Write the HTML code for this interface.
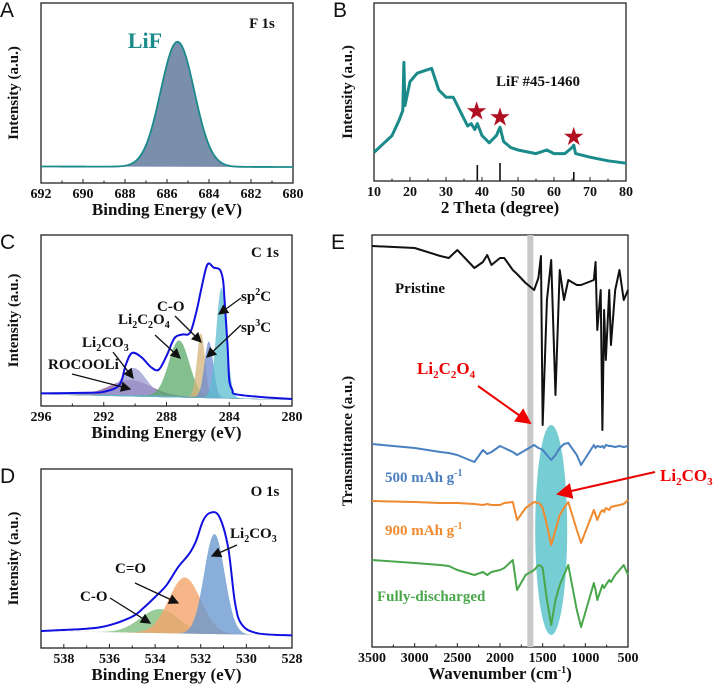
<!DOCTYPE html>
<html><head><meta charset="utf-8"><style>
body{margin:0;background:#fff;}
svg{display:block;font-family:"Liberation Serif",serif;font-weight:bold;}
.pl{font-family:"Liberation Sans",sans-serif;font-weight:normal;font-size:21px;}
</style></head><body>
<svg id="fig" width="725" height="685" viewBox="0 0 725 685">
<defs><marker id="ah" markerWidth="8" markerHeight="8" refX="7" refY="4" orient="auto"><path d="M0,0 L8,4 L0,8 z" fill="#111"/></marker>
<marker id="ahr" markerWidth="8" markerHeight="8" refX="7" refY="4" orient="auto"><path d="M0,0 L8,4 L0,8 z" fill="#e00"/></marker></defs>
</svg>
<script>
// ---- Data ----
const aTicks=[692,690,688,686,684,682,680];
const aPeak=[685.5,125,0.8]; // center, height(px), sigma
const bX=[10,15,17,18,18.3,18.6,20,22,25,26,28,30,32,34,36,37,38,38.7,40,42,44,45,46,48,50,55,58,60,63,65,65.5,66,70,75,80];
const bY=[13,27,40,48,88,52,72,79,82,83,65,59,59,47,35,37,32,37,27,21,27,34,22,17,15,12,15,12,12,17,19,12,9,6,4];
const bTicks=[10,20,30,40,50,60,70,80];
const bStars=[38.5,45,65.5];
const bStarY=[47,42,26];
const bRef=[38.7,45,65.5];
const bRefH=[16,18,9];
const cTicks=[296,292,288,284,280];
const cNames=["ROCOOLi","Li2CO3","Li2C2O4","C-O","sp3C","sp2C"];
const cCenters=[290.3,290.1,287.2,285.8,285.3,284.5];
const cHeights=[15,27,56,64,56,110];
const cSigmas=[1.3,0.8,0.65,0.25,0.28,0.33];
const cColors=["#8a5a9a","#9a9ad0","#5aaa6a","#d6b47a","#6a8ad0","#5abcd0"];
const cEnvX=[296,293,292,291,290.6,290.2,289.6,289,288.5,288,287.5,287,286.5,286.1,285.8,285.5,285.3,285,284.6,284.4,284.3,284.1,284,283.8,283.6,282,280];
const cEnvH=[1,2,3,10,30,42,38,28.5,26,40,58,62,64,85,107,128,134,130,128,118,98,50,18,8,4,2,1];
const dTicks=[538,536,534,532,530,528];
const dNames=["C-O","C=O","Li2CO3"];
const dCenters=[533.8,532.7,531.4];
const dHeights=[24,56,100];
const dSigmas=[0.85,0.7,0.45];
const dColors=["#7fbf7f","#f4a46a","#6a9ad0"];
const dEnvX=[539,537,536,535,534.5,534,533.5,533,532.5,532.2,531.9,531.6,531.2,530.8,530.5,530.2,529.5,528];
const dEnvH=[0,3,7,16,25,36,48,66,80,93,113,121,118,87,32,10,1.5,0];
const eTicks=[3500,3000,2500,2000,1500,1000,500];
const eWN=[3500,3000,2700,2600,2500,2300,2200,2150,2100,2000,1950,1850,1800,1700,1600,1550,1520,1500,1450,1400,1350,1300,1250,1200,1100,1050,900,880,860,820,800,780,760,720,700,650,600,550,500];
const ePristine=[246,248,256,258,250,268,262,255,265,258,258,270,274,283,290,278,256,425,300,260,395,270,300,280,285,285,280,262,330,290,430,310,360,290,345,290,270,300,290];
const e500=[444,448,452,453,455,462,450,454,452,446,448,452,455,450,445,448,449,450,455,460,455,448,444,443,455,465,445,448,446,447,446,448,445,446,446,447,446,447,446];
const e900=[501,502,503,503,503,504,505,504,505,505,503,502,520,508,502,503,505,508,525,545,530,515,508,502,530,543,510,515,520,512,510,512,508,510,507,506,505,504,500];
const eFull=[560,563,565,566,570,575,572,575,572,570,568,560,590,575,570,565,566,568,600,625,600,585,575,565,610,627,583,590,600,590,585,588,585,580,582,575,570,565,575];

const S=document.getElementById('fig');const NS="http://www.w3.org/2000/svg";
function mk(t,a,p){const e=document.createElementNS(NS,t);for(const k in a)e.setAttribute(k,a[k]);(p||S).appendChild(e);return e;}
function txt(s,x,y,size,fill,anchor,extra){const e=mk('text',Object.assign({x:x,y:y,'font-size':size,fill:fill||'#111','text-anchor':anchor||'middle'},extra||{}));e.innerHTML=s;return e;}
function panel(L,R,T,B,x0,x1,ticks,title,ytitle,ytx,letter){
 const sx=v=>L+(v-x0)/(x1-x0)*(R-L);
 mk('rect',{x:L,y:T,width:R-L,height:B-T,fill:'none',stroke:'#222','stroke-width':1.3});
 ticks.forEach((t,i)=>{mk('line',{x1:sx(t),x2:sx(t),y1:B,y2:B-4,stroke:'#222'});
  const l=txt(String(t),sx(t),B+15,14);
  if(i<ticks.length-1){const m=(t+ticks[i+1])/2;mk('line',{x1:sx(m),x2:sx(m),y1:B,y2:B-2.5,stroke:'#222'});}});
 const xt=txt(title,(L+R)/2,B+32,17);
 const cy=(T+B)/2;const yt=txt(ytitle,ytx,cy,15,'#111','middle',{transform:`rotate(-90 ${ytx} ${cy})`});
 
 const pl=txt(letter,L-41,T+14,21,'#111','start',{class:'pl'});
 return sx;}
function gauss(x,c,h,s){return h*Math.exp(-((x-c)**2)/(2*s*s));}
function range(a,b,n){const r=[];for(let i=0;i<=n;i++)r.push(a+(b-a)*i/n);return r;}
function smooth(pts){let d='M'+pts[0][0]+','+pts[0][1];for(let i=0;i<pts.length-1;i++){const p0=pts[i-1]||pts[i],p1=pts[i],p2=pts[i+1],p3=pts[i+2]||p2;
 d+='C'+(p1[0]+(p2[0]-p0[0])/6)+','+(p1[1]+(p2[1]-p0[1])/6)+' '+(p2[0]-(p3[0]-p1[0])/6)+','+(p2[1]-(p3[1]-p1[1])/6)+' '+p2[0]+','+p2[1];}return d;}

// ---- Panel A ----
{const sx=panel(41,293,3,183,692,680,aTicks,"Binding Energy (eV)","Intensity (a.u.)",18,"A");
 const base=x=>167-(x-680)/12*0.5;const xs=range(692,680,200);
 let d=xs.map((x,i)=>(i?'L':'M')+sx(x)+','+(base(x)-gauss(x,aPeak[0],aPeak[1],aPeak[2]))).join('');
 const f=mk('path',{d:d+'L'+sx(680)+','+base(680)+'L'+sx(692)+','+base(692)+'Z',fill:'#7a8fac',stroke:'none'});
 
 const l=mk('path',{d:d,fill:'none',stroke:'#1a8a8a','stroke-width':1.8});
 const t1=txt("LiF",145,48,22,'#1a8a8a');
 const t2=txt("F 1s",262,28,15);}

// ---- Panel B ----
{const sx=panel(374,626,3,181,10,80,bTicks,"2 Theta (degree)","Intensity (a.u.)",352,"B");
 const sy=v=>168-v*1.2;
 const d=bX.map((x,i)=>(i?'L':'M')+sx(x)+','+sy(bY[i])).join('');
 const l=mk('path',{d:d,fill:'none',stroke:'#1a8a8a','stroke-width':3,'stroke-linejoin':'round'});
 bRef.forEach((x,i)=>{const r=mk('line',{x1:sx(x),x2:sx(x),y1:181,y2:181-bRefH[i],stroke:'#111','stroke-width':1.6});});
 bStars.forEach((x,i)=>{const s=txt("★",sx(x),sy(bStarY[i])+7,22,'#b01020');});
 const t=txt("LiF #45-1460",538,86,15);}

// ---- Panel C ----
{const sx=panel(41,292,235,406,296,280,cTicks,"Binding Energy (eV)","Intensity (a.u.)",18,"C");
 const base=x=>395+(290-x)*0.5*(x<290?1:0.2);const xs=range(296,280,320);
 cNames.forEach((n,k)=>{const d=xs.map((x,i)=>(i?'L':'M')+sx(x)+','+(base(x)-gauss(x,cCenters[k],cHeights[k],cSigmas[k]))).join('');
  const p=mk('path',{d:d+'L'+sx(280)+','+base(280)+'L'+sx(296)+','+base(296)+'Z',fill:cColors[k],'fill-opacity':0.75,stroke:'none'});
  });
 const env=mk('path',{d:smooth(cEnvX.map((x,i)=>[sx(x),base(x)-cEnvH[i]])),fill:'none',stroke:'#1010e0','stroke-width':2});
 const lab=[["ROCOOLi",48,369,130,389],["Li<tspan font-size='10' dy='4'>2</tspan><tspan dy='-4'>CO</tspan><tspan font-size='10' dy='4'>3</tspan>",82,347,133,378],["Li<tspan font-size='10' dy='4'>2</tspan><tspan dy='-4'>C</tspan><tspan font-size='10' dy='4'>2</tspan><tspan dy='-4'>O</tspan><tspan font-size='10' dy='4'>4</tspan>",118,324,180,358],["C-O",157,311,201,342],["sp<tspan font-size='10' dy='-6'>3</tspan><tspan dy='6'>C</tspan>",241,332,207,357],["sp<tspan font-size='10' dy='-6'>2</tspan><tspan dy='6'>C</tspan>",241,301,219,314]];
 const starts=[[72,374],[113,352],[155,335],[175,316],[241,325],[241,298]];
 lab.forEach((a,i)=>{const t=txt(a[0],a[1],a[2],15,'#111','start');
  const ar=mk('line',{x1:starts[i][0],y1:starts[i][1],x2:a[3],y2:a[4],stroke:'#111','stroke-width':1.3,'marker-end':'url(#ah)'});});
 const t=txt("C 1s",265,257,15);}

// ---- Panel D ----
{const sx=panel(41,292,469,648,539,528,dTicks,"Binding Energy (eV)","Intensity (a.u.)",18,"D");
 const base=x=>631+(539-x)*0.4;const xs=range(539,528,300);
 dNames.forEach((n,k)=>{const d=xs.map((x,i)=>(i?'L':'M')+sx(x)+','+(base(x)-gauss(x,dCenters[k],dHeights[k],dSigmas[k]))).join('');
  const p=mk('path',{d:d+'L'+sx(528)+','+base(528)+'L'+sx(539)+','+base(539)+'Z',fill:dColors[k],'fill-opacity':0.8,stroke:'none'});
  });
 const env=mk('path',{d:smooth(dEnvX.map((x,i)=>[sx(x),base(x)-dEnvH[i]])),fill:'none',stroke:'#1010e0','stroke-width':2});
 const lab=[["C-O",80,601,110,598,150,623],["C=O",115,573,135,583,178,603],["Li<tspan font-size='10' dy='4'>2</tspan><tspan dy='-4'>CO</tspan><tspan font-size='10' dy='4'>3</tspan>",230,538,237,545,212,556]];
 lab.forEach(a=>{const t=txt(a[0],a[1],a[2],15,'#111','start');
  const ar=mk('line',{x1:a[3],y1:a[4],x2:a[5],y2:a[6],stroke:'#111','stroke-width':1.3,'marker-end':'url(#ah)'});});
 const t=txt("O 1s",265,496,15);}

// ---- Panel E ----
{const sx=panel(372,628,235,647,3500,500,eTicks,"Wavenumber (cm<tspan font-size='10' dy='-6'>-1</tspan><tspan dy='6'>)</tspan>","Transmittance (a.u.)",352,"E");
 const band=mk('rect',{x:sx(1680),y:235,width:6,height:412,fill:'#c8c8c8'});
 const el=mk('ellipse',{cx:sx(1400),cy:530,rx:16,ry:105,fill:'#5fc4cc','fill-opacity':0.85});
 const series=[[ePristine,'#111','ftir-pristine'],[e500,'#4a80c0','ftir-500mah'],[e900,'#f08a30','ftir-900mah'],[eFull,'#4aa64a','ftir-fully-discharged']];
 series.forEach(s=>{const d=eWN.map((w,i)=>(i?'L':'M')+sx(w)+','+s[0][i]).join('');
  const p=mk('path',{d:d,fill:'none',stroke:s[1],'stroke-width':2,'stroke-linejoin':'round'});});
 const labs=[["Pristine",395,293,'#111'],["500 mAh g<tspan font-size='10' dy='-6'>-1</tspan>",385,482,'#4a80c0'],["900 mAh g<tspan font-size='10' dy='-6'>-1</tspan>",385,535,'#f08a30'],["Fully-discharged",377,601,'#4aa64a']];
 labs.forEach(a=>{const t=txt(a[0],a[1],a[2],15,a[3],'start');});
 const r1=txt("Li<tspan font-size='11' dy='4'>2</tspan><tspan dy='-4'>C</tspan><tspan font-size='11' dy='4'>2</tspan><tspan dy='-4'>O</tspan><tspan font-size='11' dy='4'>4</tspan>",417,374,17,'#e00','start');
 const a1=mk('line',{x1:478,y1:386,x2:530,y2:423,stroke:'#e00','stroke-width':2,'marker-end':'url(#ahr)'});
 const r2=txt("Li<tspan font-size='11' dy='4'>2</tspan><tspan dy='-4'>CO</tspan><tspan font-size='11' dy='4'>3</tspan>",660,481,17,'#e00','start');
 const a2=mk('line',{x1:655,y1:472,x2:558,y2:494,stroke:'#e00','stroke-width':2,'marker-end':'url(#ahr)'});}
</script>
</body></html>
